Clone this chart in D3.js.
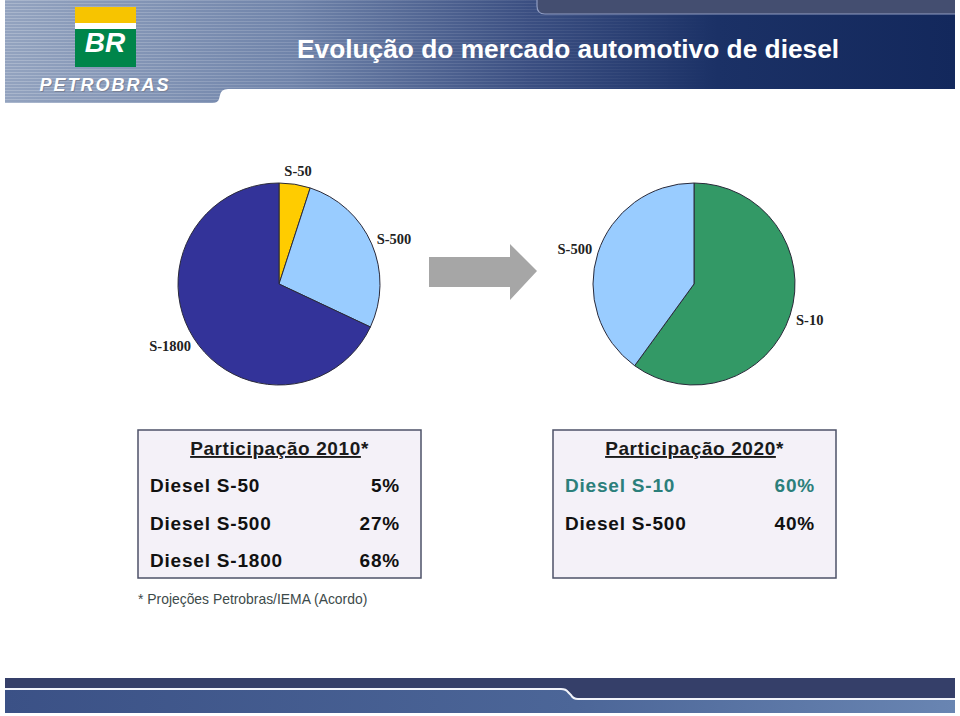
<!DOCTYPE html>
<html>
  <head>
    <meta charset="utf-8">
    <title>Evolução do mercado automotivo de diesel</title>
    <script src="https://cdn.jsdelivr.net/npm/d3@7"></script>
    <style>
      body { margin: 0; background: #fff; }
      svg { display: block; }
    </style>
  </head>
  <body>
    <svg></svg>
    <script>
      // pie data
      let labels2010 = ["S-50", "S-500", "S-1800"];
      let values2010 = [5, 27, 68];
      let colors2010 = ["#ffcc00", "#99ccff", "#333399"];

      let labels2020 = ["S-10", "S-500"];
      let values2020 = [60, 40];
      let colors2020 = ["#339966", "#99ccff"];

      // table rows
      let rows2010 = ["Diesel S-50", "Diesel S-500", "Diesel S-1800"];
      let rowColors2010 = ["#111", "#111", "#111"];
      let rows2020 = ["Diesel S-10", "Diesel S-500"];
      let rowColors2020 = ["#2b7f7b", "#111"];

      let w = 960, h = 716;
      let sans = `"Liberation Sans", Arial, sans-serif`;
      let serif = `"Liberation Serif", "Times New Roman", serif`;

      let svg = d3.select("svg")
                  .attr("width", w)
                  .attr("height", h);

      let defs = svg.append("defs");

      //header gradient
      let hg = defs.append("linearGradient").attr("id", "headGrad");
      hg.append("stop").attr("offset", "0%").attr("stop-color", "#93a3bf");
      hg.append("stop").attr("offset", "30%").attr("stop-color", "#7084aa");
      hg.append("stop").attr("offset", "55%").attr("stop-color", "#3b4f82");
      hg.append("stop").attr("offset", "75%").attr("stop-color", "#1b3166");
      hg.append("stop").attr("offset", "100%").attr("stop-color", "#13285c");

      let fg = defs.append("linearGradient").attr("id", "footGrad");
      fg.append("stop").attr("offset", "0%").attr("stop-color", "#3b5186");
      fg.append("stop").attr("offset", "60%").attr("stop-color", "#4c6698");
      fg.append("stop").attr("offset", "100%").attr("stop-color", "#6985b2");

      //stripes, fading out to the right
      let pat = defs.append("pattern")
                    .attr("id", "stripes")
                    .attr("width", 4).attr("height", 3)
                    .attr("patternUnits", "userSpaceOnUse");
      pat.append("rect").attr("width", 4).attr("height", 1).attr("fill", "#fff");

      let mg = defs.append("linearGradient").attr("id", "fadeGrad");
      mg.append("stop").attr("offset", "0%").attr("stop-color", "#fff").attr("stop-opacity", 0.22);
      mg.append("stop").attr("offset", "55%").attr("stop-color", "#fff").attr("stop-opacity", 0.08);
      mg.append("stop").attr("offset", "75%").attr("stop-color", "#fff").attr("stop-opacity", 0);
      defs.append("mask").attr("id", "fadeMask")
          .append("rect").attr("width", w).attr("height", 110).attr("fill", "url(#fadeGrad)");

      let headPath = "M5,0 H955 V89 H228 Q221,89 220,95 L219,99 Q218,103 212,103 H5 Z";

      svg.append("path").attr("d", headPath).attr("fill", "url(#headGrad)");
      svg.append("path").attr("d", headPath)
         .attr("fill", "url(#stripes)")
         .attr("mask", "url(#fadeMask)");

      //top right band
      svg.append("path")
         .attr("d", "M537,0 V6 Q537,14 545,14 H955 V0 Z")
         .attr("fill", "#444e70");
      svg.append("path")
         .attr("d", "M537,0 V6 Q537,14 545,14 H955")
         .attr("fill", "none")
         .attr("stroke", "#8f9cc2")
         .attr("stroke-width", 1.2);

      //logo
      let logo = svg.append("g");
      logo.append("rect").attr("x", 75).attr("y", 7).attr("width", 61).attr("height", 16).attr("fill", "#f7c400");
      logo.append("rect").attr("x", 75).attr("y", 23).attr("width", 61).attr("height", 6).attr("fill", "#fff");
      logo.append("rect").attr("x", 75).attr("y", 29).attr("width", 61).attr("height", 38).attr("fill", "#00854a");
      logo.append("text")
          .attr("x", 105).attr("y", 52)
          .attr("text-anchor", "middle")
          .attr("font-family", sans)
          .attr("font-weight", "bold")
          .attr("font-style", "italic")
          .attr("font-size", 28)
          .attr("fill", "#fff")
          .text("BR");
      ["#7a8296", "#fff"].forEach((c, i) => {
        logo.append("text")
            .attr("x", 106 - i).attr("y", 92 - i)
            .attr("text-anchor", "middle")
            .attr("font-family", sans)
            .attr("font-weight", "bold")
            .attr("font-style", "italic")
            .attr("font-size", 18)
            .attr("letter-spacing", 2)
            .attr("fill", c)
            .text("PETROBRAS");
      });

      //title
      svg.append("text")
         .attr("x", 297).attr("y", 58)
         .attr("font-family", sans)
         .attr("font-weight", "bold")
         .attr("font-size", 26.3)
         .attr("fill", "#fff")
         .text("Evolução do mercado automotivo de diesel");

      //footer
      svg.append("rect")
         .attr("x", 5).attr("y", 678).attr("width", 950).attr("height", 35)
         .attr("fill", "url(#footGrad)");
      svg.append("path")
         .attr("d", "M5,678 H955 V699 H578 Q573,699 571,695 L568,692 Q566,689 561,689 H5 Z")
         .attr("fill", "#353f69");
      svg.append("path")
         .attr("d", "M5,689 H561 Q566,689 568,692 L571,695 Q573,699 578,699 H955")
         .attr("fill", "none")
         .attr("stroke", "#f2f4fa")
         .attr("stroke-width", 2);

      //pies
      let r = 101;
      let pie = d3.pie().sort(null);
      let arc = d3.arc().innerRadius(0).outerRadius(r);

      let drawPie = (cx, cy, labels, values, colors) => {
        let g = svg.append("g").attr("transform", `translate(${cx},${cy})`);
        let arcs = pie(values);

        g.selectAll("path")
         .data(arcs)
         .enter()
         .append("path")
         .attr("d", arc)
         .attr("fill", (d, i) => colors[i])
         .attr("stroke", "#2a2a3a")
         .attr("stroke-width", 1);

        //labels sit just outside the rim, pushed out by half their box
        g.selectAll("text")
         .data(arcs)
         .enter()
         .append("text")
         .attr("text-anchor", "middle")
         .attr("dominant-baseline", "middle")
         .attr("font-family", serif)
         .attr("font-weight", "bold")
         .attr("font-size", 14.5)
         .attr("fill", "#222")
         .text((d, i) => labels[i])
         .each(function(d) {
           let a = (d.startAngle + d.endAngle) / 2;
           let tw = this.getComputedTextLength();
           let sx = Math.sin(a), cy2 = Math.cos(a);
           d3.select(this)
             .attr("x", sx * (r + 7) + sx * tw / 2)
             .attr("y", -cy2 * (r + 7) - cy2 * 7 + 2);
         });
      };

      drawPie(279, 284, labels2010, values2010, colors2010);
      drawPie(694, 284, labels2020, values2020, colors2020);

      //arrow
      svg.append("path")
         .attr("d", "M429,257 H510 V244 L537,271 L510,300 V287 H429 Z")
         .attr("fill", "#a6a6a6");

      //tables
      let drawTable = (x, title, rows, values, rowColors) => {
        let bw = 283, bh = 148, y = 430;
        let g = svg.append("g");
        g.append("rect")
         .attr("x", x).attr("y", y)
         .attr("width", bw).attr("height", bh)
         .attr("fill", "#f4f1f8")
         .attr("stroke", "#4d5268")
         .attr("stroke-width", 1.5);

        let t = g.append("text")
                 .attr("x", x + bw / 2).attr("y", y + 25)
                 .attr("text-anchor", "middle")
                 .attr("font-family", sans)
                 .attr("font-weight", "bold")
                 .attr("font-size", 19)
                 .attr("letter-spacing", 0.6)
                 .attr("fill", "#1a1a1a");
        t.append("tspan").attr("text-decoration", "underline").text(title);
        t.append("tspan").text("*");

        let rowY = d3.scalePoint()
                     .domain(d3.range(3))
                     .range([y + 62, y + 137]);

        g.selectAll(".rowLabel")
         .data(rows)
         .enter()
         .append("text")
         .attr("class", "rowLabel")
         .attr("x", x + 12)
         .attr("y", (d, i) => rowY(i))
         .attr("font-family", sans)
         .attr("font-weight", "bold")
         .attr("font-size", 19)
         .attr("letter-spacing", 0.8)
         .attr("fill", (d, i) => rowColors[i])
         .text(d => d);

        g.selectAll(".rowValue")
         .data(values)
         .enter()
         .append("text")
         .attr("class", "rowValue")
         .attr("x", x + 262)
         .attr("y", (d, i) => rowY(i))
         .attr("text-anchor", "end")
         .attr("font-family", sans)
         .attr("font-weight", "bold")
         .attr("font-size", 19)
         .attr("letter-spacing", 0.8)
         .attr("fill", (d, i) => rowColors[i])
         .text(d => d + "%");
      };

      drawTable(138, "Participação 2010", rows2010, values2010, rowColors2010);
      drawTable(553, "Participação 2020", rows2020, values2020, rowColors2020);

      //footnote
      svg.append("text")
         .attr("x", 138).attr("y", 604)
         .attr("font-family", sans)
         .attr("font-size", 13.9)
         .attr("fill", "#3d4a4a")
         .text("* Projeções Petrobras/IEMA (Acordo)");
    </script>
  </body>
</html>
